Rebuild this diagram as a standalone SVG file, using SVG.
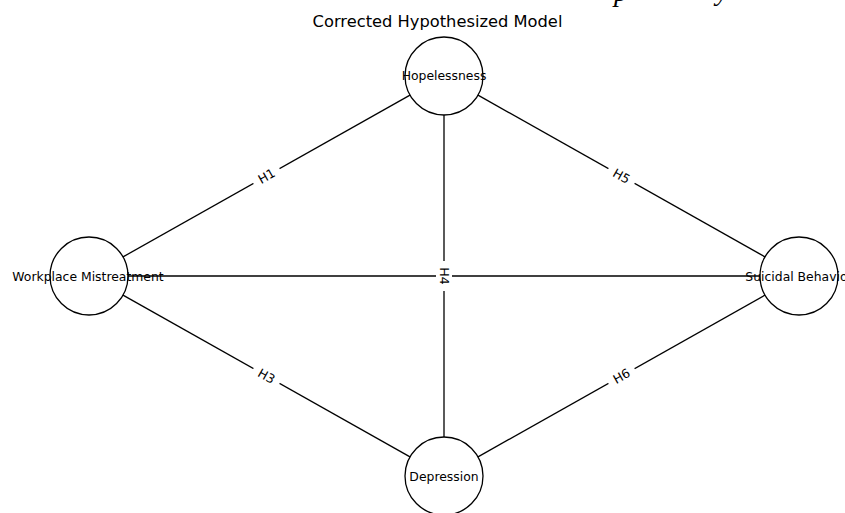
<svg xmlns="http://www.w3.org/2000/svg" width="845" height="513" viewBox="0 0 845 513">
<style>
.node circle{fill:#fff;stroke:#000;stroke-width:1.3}
.nl{font-family:"DejaVu Sans",sans-serif;font-size:12.4px;fill:#000;text-anchor:middle;dominant-baseline:central}
.edge{stroke:#000;stroke-width:1.3;fill:none}
.el{font-family:"DejaVu Sans",sans-serif;font-size:12.5px;fill:#000;text-anchor:middle;dominant-baseline:central}
.bg{fill:#fff}
.title{font-family:"DejaVu Sans",sans-serif;font-size:16.3px;fill:#000;text-anchor:middle}
.cap{font-family:"Liberation Serif",serif;font-style:italic;font-size:28px;fill:#000}
</style>
<rect width="845" height="513" fill="#fff"/>
<text class="cap" x="614" y="1">p</text>
<text class="cap" x="716" y="0">y</text>
<text class="title" x="437.5" y="27">Corrected Hypothesized Model</text>
<g id="node-hopelessness" class="node"><circle cx="444" cy="76" r="39"/><text class="nl" x="444" y="75">Hopelessness</text></g>
<g id="node-workplace" class="node"><circle cx="89" cy="276" r="39"/><text class="nl" x="88" y="276">Workplace Mistreatment</text></g>
<g id="node-suicidal" class="node"><circle cx="799" cy="276" r="39"/><text class="nl" x="799" y="276">Suicidal Behavior</text></g>
<g id="node-depression" class="node"><circle cx="444" cy="476" r="39"/><text class="nl" x="444" y="476">Depression</text></g>
<g id="connectors">
<line class="edge" x1="123" y1="256.9" x2="410" y2="95.1"/>
<line class="edge" x1="478" y1="95.1" x2="765" y2="256.9"/>
<line class="edge" x1="123" y1="295.1" x2="410" y2="456.9"/>
<line class="edge" x1="478" y1="456.9" x2="765" y2="295.1"/>
<line class="edge" x1="128" y1="276" x2="760" y2="276"/>
<line class="edge" x1="444" y1="115" x2="444" y2="437"/>
<g transform="translate(266.5,176) rotate(-29.4)"><rect class="bg" x="-15" y="-8" width="30" height="16"/><text class="el" x="0" y="0">H1</text></g>
<g transform="translate(621.5,176) rotate(29.4)"><rect class="bg" x="-15" y="-8" width="30" height="16"/><text class="el" x="0" y="0">H5</text></g>
<g transform="translate(266.5,376) rotate(29.4)"><rect class="bg" x="-15" y="-8" width="30" height="16"/><text class="el" x="0" y="0">H3</text></g>
<g transform="translate(621.5,376) rotate(-29.4)"><rect class="bg" x="-15" y="-8" width="30" height="16"/><text class="el" x="0" y="0">H6</text></g>
<g transform="translate(444,276) rotate(90)"><rect class="bg" x="-15" y="-8" width="30" height="16"/><text class="el" x="0" y="0">H4</text></g>
</g>
</svg>
